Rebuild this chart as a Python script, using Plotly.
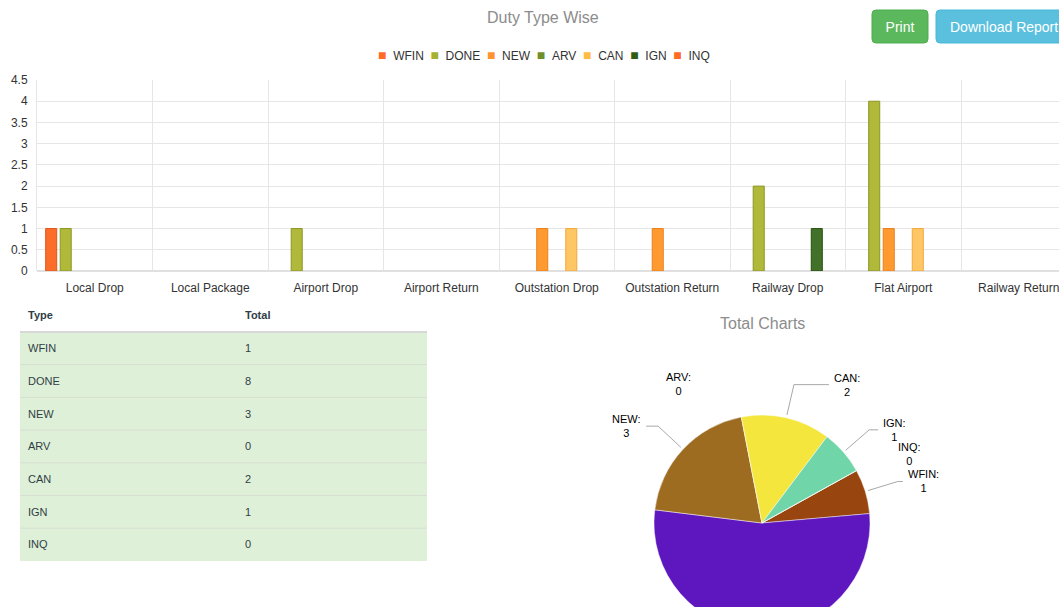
import math
import plotly.graph_objects as go

# ---------------- data ----------------
categories = ["Local Drop", "Local Package", "Airport Drop", "Airport Return",
              "Outstation Drop", "Outstation Return", "Railway Drop",
              "Flat Airport", "Railway Return"]
series_names = ["WFIN", "DONE", "NEW", "ARV", "CAN", "IGN", "INQ"]
wfin_vals = [1, 0, 0, 0, 0, 0, 0, 0, 0]
done_vals = [1, 0, 1, 0, 0, 0, 2, 4, 0]
new_vals = [0, 0, 0, 0, 1, 1, 0, 1, 0]
arv_vals = [0, 0, 0, 0, 0, 0, 0, 0, 0]
can_vals = [0, 0, 0, 0, 1, 0, 0, 1, 0]
ign_vals = [0, 0, 0, 0, 0, 0, 1, 0, 0]
inq_vals = [0, 0, 0, 0, 0, 0, 0, 0, 0]
y_ticks = [0, 0.5, 1, 1.5, 2, 2.5, 3, 3.5, 4, 4.5]

table_header = ["Type", "Total"]
table_types = ["WFIN", "DONE", "NEW", "ARV", "CAN", "IGN", "INQ"]
table_totals = [1, 8, 3, 0, 2, 1, 0]

pie_labels = ["WFIN", "DONE", "NEW", "ARV", "CAN", "IGN", "INQ"]
pie_values = [1, 8, 3, 0, 2, 1, 0]

# ---------------- styles ----------------
series_values = [wfin_vals, done_vals, new_vals, arv_vals, can_vals, ign_vals, inq_vals]
bar_colors = ["#fb6e2a", "#b0b93a", "#ff9a30", "#6e8f2a", "#ffc665", "#42712a", "#ff6b2b"]
bar_edges = ["#e0561a", "#8c9622", "#e9801c", "#557320", "#f0a93b", "#28500f", "#e0561a"]
legend_colors = ["#ff6a24", "#a6b230", "#ff9230", "#6e8f2a", "#ffbb44", "#2f5e12", "#ff6a24"]
pie_colors = ["#98450f", "#5e17be", "#9e6c20", "#7d5a2a", "#f5e63e", "#70d6a9", "#b0b0b0"]
label_nudge = [8, 5, 15, 42, 38, 12, 10]

FONT = "Liberation Sans, Arial, DejaVu Sans, sans-serif"
W, H = 1059, 640   # figure is taller than the 607px window so the pie is cut off
VIEW_H = 607


def fx(x):
    return x / W


def fy(y):
    return 1 - y / H


fig = go.Figure()

# ---------------- bar chart ----------------
for name, vals, col, edge in zip(series_names, series_values, bar_colors, bar_edges):
    fig.add_trace(go.Bar(
        x=categories, y=[v if v else None for v in vals], name=name,
        marker=dict(color=col, line=dict(color=edge, width=1)),
        showlegend=False, xaxis="x", yaxis="y",
        hovertemplate="%{x}<br>" + name + ": %{y}<extra></extra>"))

# ---------------- table ----------------
tbl_x0, tbl_x1 = 20, 427
line_top, row_h = 332, 32.7          # header rule and row pitch
tbl_top, hdr_h = 301, 35             # plotly places text near the top of a cell
fig.add_trace(go.Table(
    domain=dict(x=[fx(tbl_x0), fx(tbl_x1)], y=[fy(590), fy(tbl_top)]),
    columnwidth=[217, 190],
    header=dict(values=["<b>%s</b>" % h for h in table_header],
                fill_color="rgba(0,0,0,0)", line_color="rgba(0,0,0,0)", align="left",
                font=dict(family=FONT, size=11, color="#2f3e46"), height=hdr_h),
    cells=dict(values=[table_types, table_totals],
               fill_color="rgba(0,0,0,0)", line_color="rgba(0,0,0,0)", align="left",
               font=dict(family=FONT, size=11, color="#2f3e46"), height=row_h)))

# ---------------- pie ----------------
cx, cy, R, L = 762, 523, 108, 142
rot = 61
fig.add_trace(go.Pie(
    labels=pie_labels, values=pie_values, sort=False, direction="clockwise",
    rotation=rot, textinfo="none", showlegend=False,
    marker=dict(colors=pie_colors, line=dict(color="rgba(255,255,255,0.45)", width=1)),
    domain=dict(x=[fx(cx - R), fx(cx + R)], y=[fy(cy + R), fy(cy - R)])))

shapes = []
annotations = []

# green body of the table
n_rows = len(table_types)
shapes.append(dict(type="rect", xref="paper", yref="paper", layer="below",
                   x0=fx(tbl_x0), x1=fx(tbl_x1), y0=fy(line_top + n_rows * row_h), y1=fy(line_top),
                   fillcolor="#dff0d8", line=dict(width=0)))
shapes.append(dict(type="line", xref="paper", yref="paper",
                   x0=fx(tbl_x0), x1=fx(tbl_x1), y0=fy(line_top), y1=fy(line_top),
                   line=dict(color="#d8d8d8", width=2), layer="above"))
for k in range(1, n_rows):
    yy = line_top + k * row_h
    shapes.append(dict(type="line", xref="paper", yref="paper",
                       x0=fx(tbl_x0), x1=fx(tbl_x1), y0=fy(yy), y1=fy(yy),
                       line=dict(color="#d6dfd2", width=1), layer="above"))

# pie labels + connectors
total = sum(pie_values)
cum = 0
for lab, v, nud in zip(pie_labels, pie_values, label_nudge):
    a0 = rot + cum / total * 360
    a1 = a0 + v / total * 360
    cum += v
    mid = math.radians((a0 + a1) / 2)
    s, c = math.sin(mid), math.cos(mid)
    bx, by = cx + L * s, cy - L * c
    if by > VIEW_H - 10:
        continue  # label lies below the visible window
    side = 1 if s >= 0 else -1
    tx = bx + side * nud
    if v > 0:
        ex, ey = cx + (R + 3) * s, cy - (R + 3) * c
        ox = tx - side * 3
        path = "M %f,%f L %f,%f L %f,%f" % (fx(ex), fy(ey), fx(bx), fy(by), fx(ox), fy(by))
        shapes.append(dict(type="path", xref="paper", yref="paper", path=path,
                           line=dict(color="#a8a8a8", width=1), layer="above"))
    annotations.append(dict(
        x=fx(tx), y=fy(by), xref="paper", yref="paper", showarrow=False,
        text="%s:<br>%s" % (lab, v), xanchor="left" if side > 0 else "right",
        yanchor="middle", align="center",
        font=dict(family=FONT, size=11, color="#000000")))


# buttons
def rrect(x0, y0, x1, y1, r):
    pts = [("M", x0 + r, y0), ("L", x1 - r, y0), ("Q", x1, y0, x1, y0 + r),
           ("L", x1, y1 - r), ("Q", x1, y1, x1 - r, y1), ("L", x0 + r, y1),
           ("Q", x0, y1, x0, y1 - r), ("L", x0, y0 + r), ("Q", x0, y0, x0 + r, y0)]
    out = []
    for p in pts:
        coords = p[1:]
        seg = ["%f,%f" % (fx(coords[i]), fy(coords[i + 1])) for i in range(0, len(coords), 2)]
        out.append(p[0] + " " + " ".join(seg))
    return " ".join(out) + " Z"


shapes.append(dict(type="path", xref="paper", yref="paper", path=rrect(872, 10, 928, 43, 4),
                   fillcolor="#5cb85c", line=dict(color="#4cae4c", width=1), layer="above",
                   label=dict(text="Print", textposition="middle center",
                              font=dict(family=FONT, size=14, color="white"))))
shapes.append(dict(type="path", xref="paper", yref="paper", path=rrect(936, 10, 1090, 43, 4),
                   fillcolor="#5bc0de", line=dict(color="#46b8da", width=1), layer="above",
                   label=dict(text="Download Report", textposition="middle left", padding=11,
                              font=dict(family=FONT, size=14, color="white"))))

# titles
annotations.append(dict(x=fx(543), y=fy(18), xref="paper", yref="paper", showarrow=False,
                        text="Duty Type Wise", xanchor="center", yanchor="middle",
                        font=dict(family=FONT, size=16, color="#8c8c8c")))
annotations.append(dict(x=fx(762), y=fy(323), xref="paper", yref="paper", showarrow=False,
                        text="Total Charts", xanchor="center", yanchor="middle",
                        font=dict(family=FONT, size=16, color="#8c8c8c")))

# legend (series names with colored squares)
legend_text = "\u00a0\u00a0".join(
    "<span style='color:%s;font-size:14px'>\u25a0</span>\u00a0\u00a0%s" % (c, n)
    for n, c in zip(series_names, legend_colors))
annotations.append(dict(x=fx(544), y=fy(55), xref="paper", yref="paper", showarrow=False,
                        text=legend_text, xanchor="center", yanchor="middle",
                        font=dict(family=FONT, size=12, color="#333333")))

n_vis = (W - 37) / ((961 - 37) / 8)
fig.update_layout(
    width=W, height=H, margin=dict(l=0, r=0, t=0, b=0, pad=0, autoexpand=False),
    paper_bgcolor="white", plot_bgcolor="white",
    font=dict(family=FONT, size=12, color="#333333"),
    barmode="group", bargap=0.12, bargroupgap=0.24,
    showlegend=False,
    xaxis=dict(domain=[fx(37), 1], type="category", range=[-0.5, -0.5 + n_vis],
               tickson="boundaries", showgrid=True, gridcolor="#e6e6e6", ticks="",
               showline=False, zeroline=False, tickfont=dict(size=12, color="#333333"),
               ticklabelstandoff=8, automargin=False,
               anchor="y", fixedrange=True),
    yaxis=dict(domain=[fy(271), fy(80)], range=[0, 4.5], tickvals=y_ticks,
               showgrid=True, gridcolor="#e6e6e6", zeroline=True, zerolinecolor="#e0e0e0",
               showline=True, linecolor="#e6e6e6", ticks="", ticklabelstandoff=6,
               automargin=False,
               tickfont=dict(size=12, color="#333333"), anchor="x", fixedrange=True),
    shapes=shapes, annotations=annotations)

fig.write_html("out.html", config={"displayModeBar": False}, post_script=(
    "document.body.style.margin='0';document.body.style.overflow='hidden';"
    "document.documentElement.style.overflow='hidden';"))
